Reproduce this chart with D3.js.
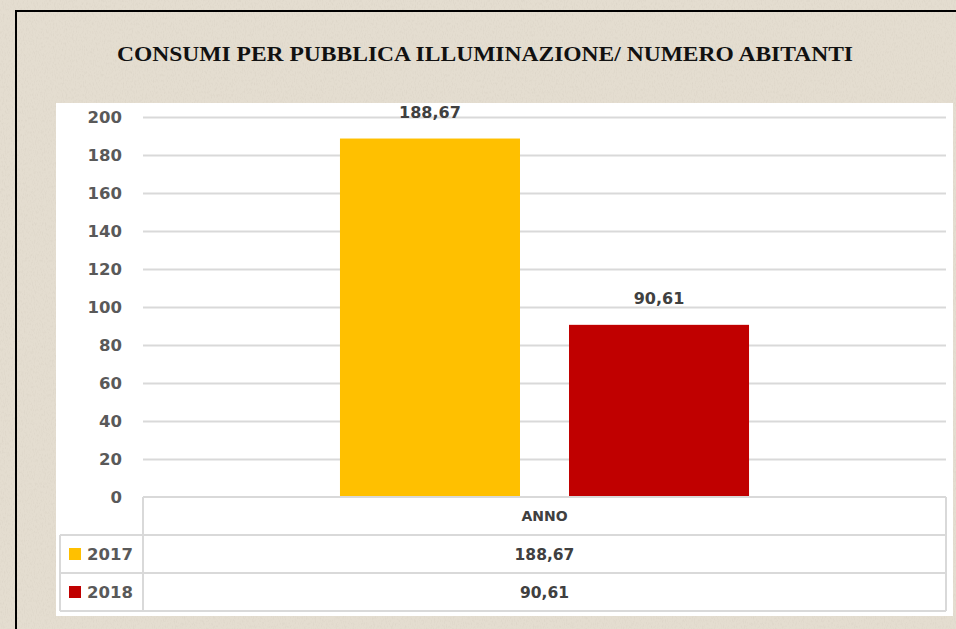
<!DOCTYPE html>
<html><head><meta charset="utf-8">
<script src="https://cdn.jsdelivr.net/npm/d3@7"></script>
<style>
html,body{margin:0;padding:0;background:#e4ddd0;}
svg{display:block;}
</style></head>
<body>
<svg id="c" width="956" height="629"></svg>
<script>
const title = "CONSUMI PER PUBBLICA ILLUMINAZIONE/ NUMERO ABITANTI";
const categories = ["ANNO"];
const seriesNames = ["2017", "2018"];
const seriesValues = [188.67, 90.61];
const seriesColors = ["#ffc000", "#c00000"];
const yTicks = [0, 20, 40, 60, 80, 100, 120, 140, 160, 180, 200];
const fmt = v => d3.format(".2f")(v).replace(".", ",");

const svg = d3.select("#c");

// textured background
const defs = svg.append("defs");
const f = defs.append("filter").attr("id","tex").attr("x",0).attr("y",0).attr("width","100%").attr("height","100%");
f.append("feTurbulence").attr("type","fractalNoise").attr("baseFrequency","0.9 0.35").attr("numOctaves",2).attr("seed",3).attr("result","n");
f.append("feColorMatrix").attr("in","n").attr("type","matrix")
  .attr("values","0 0 0 0 0.55  0 0 0 0 0.5  0 0 0 0 0.42  0 0 0 -1.4 0.75");
svg.append("rect").attr("width",956).attr("height",629).attr("fill","#e4ddd0");
svg.append("rect").attr("width",956).attr("height",629).attr("filter","url(#tex)").attr("opacity",0.35);

// frame
svg.append("path").attr("d","M16,640 L16,11 L970,11").attr("fill","none").attr("stroke","#000").attr("stroke-width",2);

// title
svg.append("text").attr("x",117).attr("y",61)
  .attr("font-family","'Liberation Serif','DejaVu Serif',serif").attr("font-weight","bold")
  .attr("font-size",21).attr("fill","#111")
  .attr("textLength",736).attr("lengthAdjust","spacingAndGlyphs").text(title);

// white chart area
svg.append("rect").attr("x",56).attr("y",103).attr("width",897).attr("height",513).attr("fill","#fff");

const x0 = 143, x1 = 946;
const y = d3.scaleLinear().domain([0,200]).range([497,117]);
const xc = d3.scaleBand().domain(categories).range([x0,x1]).padding(0);
const xs = d3.scaleBand().domain(seriesNames).range([0, xc.bandwidth()]).paddingInner(0.214).paddingOuter(0.86);

const labelFont = "'DejaVu Sans','Verdana',sans-serif";

// gridlines
const gridAxis = d3.axisLeft(y).tickValues(yTicks.filter(t=>t>0)).tickSize(-(x1-x0)).tickFormat("");
const gg = svg.append("g").attr("transform",`translate(${x0},0)`).call(gridAxis);
gg.select(".domain").remove();
gg.selectAll("line").attr("stroke","#d9d9d9").attr("stroke-width",2);

// y axis labels
const ya = d3.axisLeft(y).tickValues(yTicks).tickSize(0).tickPadding(0).tickFormat(d3.format("d"));
const yg = svg.append("g").attr("transform",`translate(122,0)`).call(ya);
yg.select(".domain").remove();
yg.selectAll("text").attr("font-family",labelFont).attr("font-weight","bold").attr("font-size",16.5).attr("fill","#595959");

// bars
const bars = svg.append("g");
seriesNames.forEach((s,i)=>{
  const bx = xc(categories[0]) + xs(s);
  bars.append("rect").attr("x",bx).attr("y",y(seriesValues[i])).attr("width",xs.bandwidth())
    .attr("height",y(0)-y(seriesValues[i])).attr("fill",seriesColors[i]);
  bars.append("text").attr("x",bx+xs.bandwidth()/2).attr("y",y(seriesValues[i])-21)
    .attr("text-anchor","middle").attr("font-family",labelFont).attr("font-weight","bold")
    .attr("font-size",16).attr("fill","#404040").text(fmt(seriesValues[i]));
});

// data table
const tbl = svg.append("g");
const rowH = 38, tTop = 497, legL = 60;
const gridC = "#d9d9d9";
const line = (xa,ya_,xb,yb)=>tbl.append("line").attr("x1",xa).attr("y1",ya_).attr("x2",xb).attr("y2",yb).attr("stroke",gridC).attr("stroke-width",2);
line(x0,tTop,x1,tTop);
line(x0,tTop,x0,tTop+rowH*3);
line(x1,tTop,x1,tTop+rowH*3);
line(legL,tTop+rowH,x1,tTop+rowH);
line(legL,tTop+rowH*2,x1,tTop+rowH*2);
line(legL,tTop+rowH*3,x1,tTop+rowH*3);
line(legL,tTop+rowH,legL,tTop+rowH*3);

tbl.append("text").attr("x",xc(categories[0])+xc.bandwidth()/2).attr("y",tTop+rowH/2+5).attr("text-anchor","middle")
  .attr("font-family",labelFont).attr("font-weight","bold").attr("font-size",14).attr("fill","#404040").text(categories[0]);
seriesNames.forEach((s,i)=>{
  const ry = tTop+rowH*(i+1);
  tbl.append("rect").attr("x",69).attr("y",ry+rowH/2-6).attr("width",12).attr("height",12).attr("fill",seriesColors[i]);
  tbl.append("text").attr("x",87).attr("y",ry+rowH/2+6).attr("font-family",labelFont).attr("font-weight","bold")
    .attr("font-size",16.5).attr("fill","#595959").text(s);
  tbl.append("text").attr("x",xc(categories[0])+xc.bandwidth()/2).attr("y",ry+rowH/2+6).attr("text-anchor","middle")
    .attr("font-family",labelFont).attr("font-weight","bold").attr("font-size",15.5).attr("fill","#404040").text(fmt(seriesValues[i]));
});
</script>
</body></html>
